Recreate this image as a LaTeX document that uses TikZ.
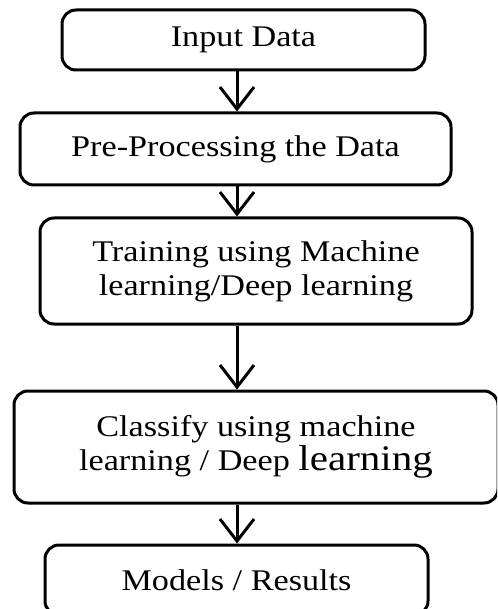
\documentclass[tikz,border=0pt]{standalone}
\usepackage{fontspec,graphicx}
\setmainfont{Liberation Serif}
\usetikzlibrary{arrows.meta}
\newcommand{\wideline}[1]{\scalebox{1.14}[1]{#1}}

\begin{document}
\begin{tikzpicture}[x=1pt,y=-1pt,
  stage/.style={draw,line width=3pt,rounded corners=14pt,align=center,inner sep=0pt,
    font=\fontsize{30}{34}\selectfont},
  flow/.style={line width=3pt,-{Straight Barb[length=22pt,width=34pt,line width=3pt]}}]
\useasboundingbox (0,0) rectangle (497,609);
\clip (0,0) rectangle (497,609);
\node[stage,minimum width=363pt,minimum height=60pt] (input) at (243.5,40) {\wideline{Input Data}};
\node[stage,minimum width=431pt,minimum height=72pt] (prep) at (235.5,149) {\wideline{Pre-Processing the Data}};
\node[stage,minimum width=432pt,minimum height=106pt] (train) at (256,271) {\wideline{Training using Machine}\\ \wideline{learning/Deep learning}};
\node[stage,minimum width=484pt,minimum height=112pt] (classify) at (256,447) {\wideline{Classify using machine}\\ \wideline{learning / Deep {\fontsize{36}{34}\selectfont learning}}};
\node[stage,minimum width=383pt,minimum height=70pt] (results) at (236.5,580) {\wideline{Models / Results}};
\coordinate (axis) at (237,0);
\draw[flow] (axis |- input.south) -- (axis |- prep.north);
\draw[flow] (axis |- prep.south) -- (axis |- train.north);
\draw[flow] (axis |- train.south) -- (axis |- classify.north);
\draw[flow] (axis |- classify.south) -- (axis |- results.north);
\end{tikzpicture}
\end{document}
